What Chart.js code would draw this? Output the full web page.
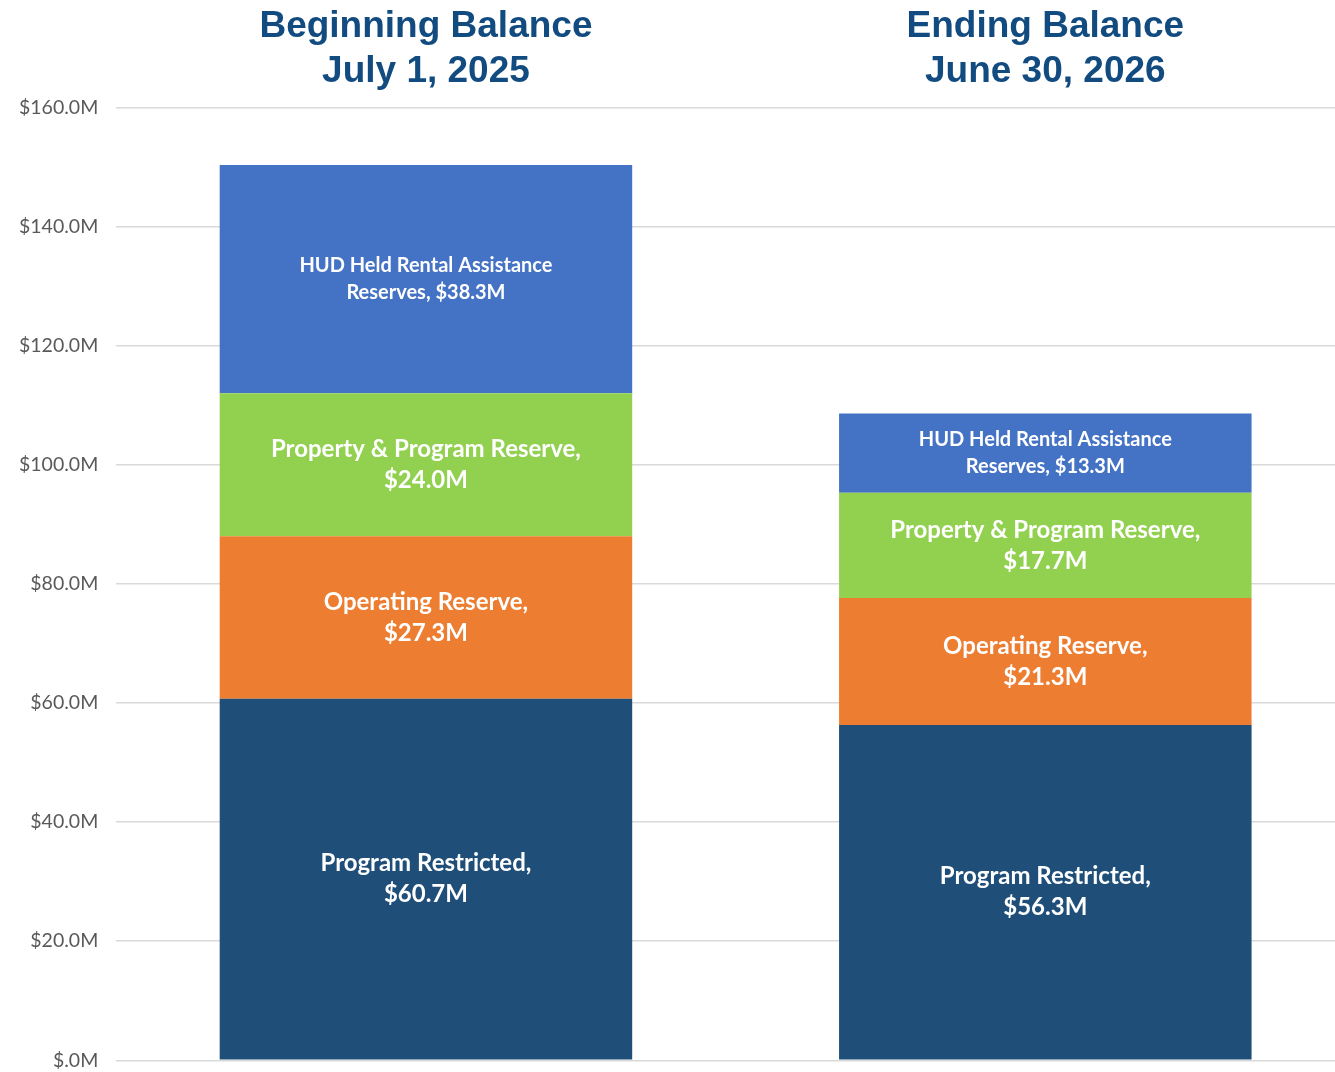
<!DOCTYPE html>
<html>
<head>
<meta charset="utf-8">
<script src="https://cdn.jsdelivr.net/npm/chart.js@4.4.1/dist/chart.umd.min.js"></script>
<style>
    html, body { margin: 0; padding: 0; background: #fff; overflow: hidden; }
    #wrap { width: 1355px; height: 1090px; position: relative; }
</style>
</head>
<body>
<div id="wrap"><canvas id="balanceChart"></canvas></div>
<script>
const periods = [['Beginning Balance', 'July 1, 2025'], ['Ending Balance', 'June 30, 2026']];
const seriesNames = ['Program Restricted', 'Operating Reserve', 'Property & Program Reserve', 'HUD Held Rental Assistance Reserves'];
const programRestricted = [60.7, 56.3];
const operatingReserve = [27.3, 21.3];
const propertyProgramReserve = [24.0, 17.7];
const hudHeldReserves = [38.3, 13.3];
const yTicks = [0, 20, 40, 60, 80, 100, 120, 140, 160];

const seriesColors = ['#1F4E79', '#ED7D31', '#92D050', '#4472C4'];

function money(v) {
    return v === 0 ? '$.0M' : '$' + v.toFixed(1) + 'M';
}

function labelLines(datasetIndex, value) {
    if (datasetIndex === 3) {
        return ['HUD Held Rental Assistance', 'Reserves, ' + money(value)];
    }
    return [seriesNames[datasetIndex] + ',', money(value)];
}

// draws the white text in the middle of each segment
const segmentLabels = {
    id: 'segmentLabels',
    afterDatasetsDraw(chart) {
        const ctx = chart.ctx;
        ctx.save();
        ctx.fillStyle = '#ffffff';
        ctx.textAlign = 'center';
        ctx.textBaseline = 'middle';
        chart.data.datasets.forEach((ds, i) => {
            const meta = chart.getDatasetMeta(i);
            meta.data.forEach((bar, j) => {
                const lines = labelLines(i, ds.data[j]);
                const small = i === 3;
                const size = small ? 20 : 24;
                const lh = small ? 27 : 31;
                ctx.font = 'bold ' + size + 'px Lato';
                const cy = (bar.y + bar.base) / 2;
                const start = cy - (lines.length - 1) * lh / 2;
                lines.forEach((line, k) => {
                    ctx.fillText(line, bar.x, start + k * lh);
                });
            });
        });
        ctx.restore();
    }
};

const ctx = document.getElementById('balanceChart').getContext('2d');
new Chart(ctx, {
    type: 'bar',
    data: {
        labels: periods,
        datasets: [
            { label: seriesNames[0], data: programRestricted, backgroundColor: seriesColors[0] },
            { label: seriesNames[1], data: operatingReserve, backgroundColor: seriesColors[1] },
            { label: seriesNames[2], data: propertyProgramReserve, backgroundColor: seriesColors[2] },
            { label: seriesNames[3], data: hudHeldReserves, backgroundColor: seriesColors[3] }
        ]
    },
    options: {
        responsive: true,
        maintainAspectRatio: false,
        animation: false,
        layout: { padding: { top: 0, bottom: 3, left: 1, right: 0 } },
        datasets: {
            bar: { categoryPercentage: 1, barPercentage: 0.666 }
        },
        scales: {
            x: {
                position: 'top',
                stacked: true,
                grid: { display: false },
                border: { display: false },
                ticks: {
                    color: '#124B80',
                    font: { family: 'Liberation Sans', size: 37, weight: 'bold', lineHeight: 1.22 },
                    padding: 4.5,
                    maxRotation: 0
                }
            },
            y: {
                stacked: true,
                min: 0,
                max: 160,
                afterBuildTicks: axis => { axis.ticks = yTicks.map(v => ({ value: v })); },
                grid: { color: '#d9d9d9', lineWidth: 1.5, drawTicks: false },
                border: { display: false },
                ticks: {
                    color: '#595959',
                    font: { family: 'Lato', size: 19.5 },
                    padding: 18,
                    callback: value => money(value)
                }
            }
        },
        plugins: {
            legend: { display: false },
            tooltip: { enabled: false }
        }
    },
    plugins: [segmentLabels]
});
</script>
</body>
</html>
